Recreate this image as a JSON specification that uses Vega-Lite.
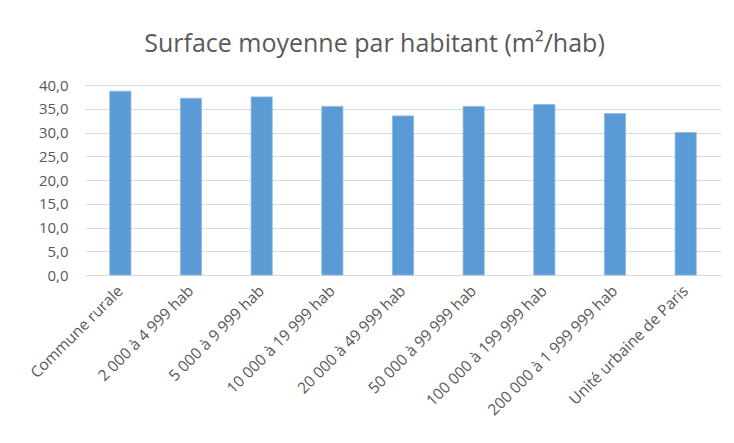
{
  "$schema": "https://vega.github.io/schema/vega-lite/v6.json",
  "autosize": "none",
  "width": 636,
  "height": 190,
  "padding": {"left": 85, "top": 85, "right": 13, "bottom": 168},
  "background": "white",
  "title": {
    "text": "Surface moyenne par habitant (m²/hab)",
    "font": "Open Sans",
    "fontSize": 25,
    "fontWeight": "normal",
    "color": "#595959",
    "anchor": "middle",
    "frame": "bounds",
    "offset": 21
  },
  "data": {
    "values": [
      {"cat": "Commune rurale", "val": 38.7},
      {"cat": "2 000 à 4 999 hab", "val": 37.2},
      {"cat": "5 000 à 9 999 hab", "val": 37.5},
      {"cat": "10 000 à 19 999 hab", "val": 35.5},
      {"cat": "20 000 à 49 999 hab", "val": 33.5},
      {"cat": "50 000 à 99 999 hab", "val": 35.5},
      {"cat": "100 000 à 199 999 hab", "val": 35.9},
      {"cat": "200 000 à 1 999 999 hab", "val": 34.0},
      {"cat": "Unité urbaine de Paris", "val": 30.0}
    ]
  },
  "mark": {"type": "bar", "color": "#5B9BD5", "stroke": "#8DB9E4", "strokeWidth": 0.8},
  "encoding": {
    "x": {
      "field": "cat",
      "type": "nominal",
      "sort": null,
      "title": null,
      "scale": {"paddingInner": 0.7, "paddingOuter": 0.35},
      "axis": {
        "labelAngle": -45,
        "labelAlign": "right",
        "labelBaseline": "middle",
        "labelFont": "Open Sans",
        "labelFontSize": 15.5,
        "labelColor": "#595959",
        "labelPadding": 13,
        "ticks": false,
        "domainColor": "#D9D9D9",
        "domainWidth": 1,
        "labelLimit": 300
      }
    },
    "y": {
      "field": "val",
      "type": "quantitative",
      "title": null,
      "scale": {"domain": [0, 40]},
      "axis": {
        "values": [0, 5, 10, 15, 20, 25, 30, 35, 40],
        "labelExpr": "replace(format(datum.value, '.1f'), '.', ',')",
        "labelFont": "Open Sans",
        "labelFontSize": 15,
        "labelColor": "#595959",
        "labelPadding": 17,
        "ticks": false,
        "domain": false,
        "gridColor": "#D9D9D9",
        "gridWidth": 1
      }
    }
  },
  "config": {"view": {"stroke": null}}
}
